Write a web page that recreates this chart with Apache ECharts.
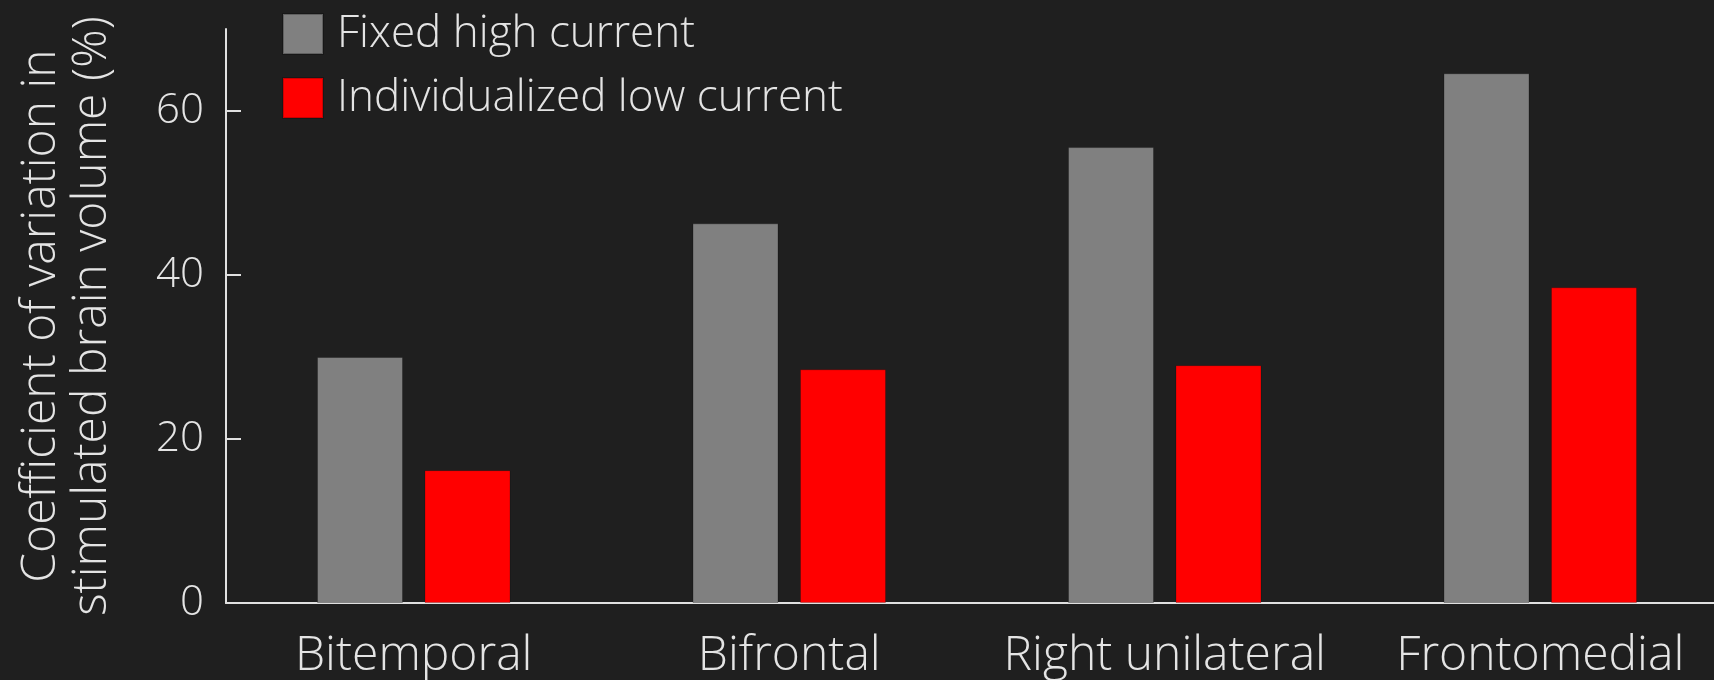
<!DOCTYPE html>
<html><head><meta charset="utf-8">
<script src="https://cdn.jsdelivr.net/npm/echarts@6/dist/echarts.min.js"></script>
<style>html,body{margin:0;padding:0;background:#1f1f1f}#c{width:1714px;height:680px}</style>
</head><body><div id="c"></div>
<script>
const categories = ['Bitemporal', 'Bifrontal', 'Right unilateral', 'Frontomedial'];
const seriesNames = ['Fixed high current', 'Individualized low current'];
const fixedHigh = [30.0, 46.3, 55.6, 64.6];
const individualizedLow = [16.2, 28.5, 29.0, 38.5];
const yTicks = [0, 20, 40, 60];
const yAxisTitle = 'Coefficient of variation in\nstimulated brain volume (%)';

const FONT = '"Open Sans", Lato, sans-serif';
const TXT = '#e4e4e4';
const chart = echarts.init(document.getElementById('c'), null, {renderer: 'canvas'});
chart.setOption({
  backgroundColor: '#1f1f1f',
  animation: false,
  textStyle: {fontFamily: FONT, fontWeight: 300, color: TXT},
  legend: {
    orient: 'vertical', left: 282, top: 12, padding: 0,
    itemWidth: 40, itemHeight: 40, itemGap: 20,
    icon: 'rect',
    textStyle: {fontFamily: FONT, fontWeight: 300, fontSize: 44, lineHeight: 40, color: TXT, padding: [0, 0, 0, 9]},
    data: seriesNames
  },
  grid: {left: 226, top: 29, width: 1502, height: 574, containLabel: false, outerBoundsMode: 'none'},
  xAxis: {
    type: 'category', data: categories,
    axisLine: {lineStyle: {color: '#e0e0e0', width: 2}},
    axisTick: {show: false},
    axisLabel: {interval: 0, fontFamily: FONT, fontWeight: 300, fontSize: 48, color: TXT, margin: 29}
  },
  yAxis: {
    type: 'value', min: 0, max: 70, interval: 20,
    name: yAxisTitle, nameLocation: 'middle', nameRotate: 90, nameGap: 108,
    nameTextStyle: {fontFamily: FONT, fontWeight: 300, fontSize: 48, lineHeight: 51, color: TXT, align: 'center'},
    axisLine: {show: true, lineStyle: {color: '#e0e0e0', width: 2}},
    axisTick: {show: true, inside: true, length: 15, lineStyle: {color: '#e0e0e0', width: 2}, customValues: yTicks},
    axisLabel: {fontFamily: FONT, fontWeight: 300, fontSize: 42, color: TXT, margin: 22, customValues: yTicks},
    splitLine: {show: false}
  },
  series: [
    {name: seriesNames[0], type: 'bar', data: fixedHigh, barWidth: 86, barGap: '25%',
     itemStyle: {color: '#808080', borderColor: 'rgba(0,0,0,0.25)', borderWidth: 1}},
    {name: seriesNames[1], type: 'bar', data: individualizedLow, barWidth: 86, barGap: '25%',
     itemStyle: {color: '#ff0000', borderColor: 'rgba(0,0,0,0.2)', borderWidth: 1}}
  ]
});
</script></body></html>
